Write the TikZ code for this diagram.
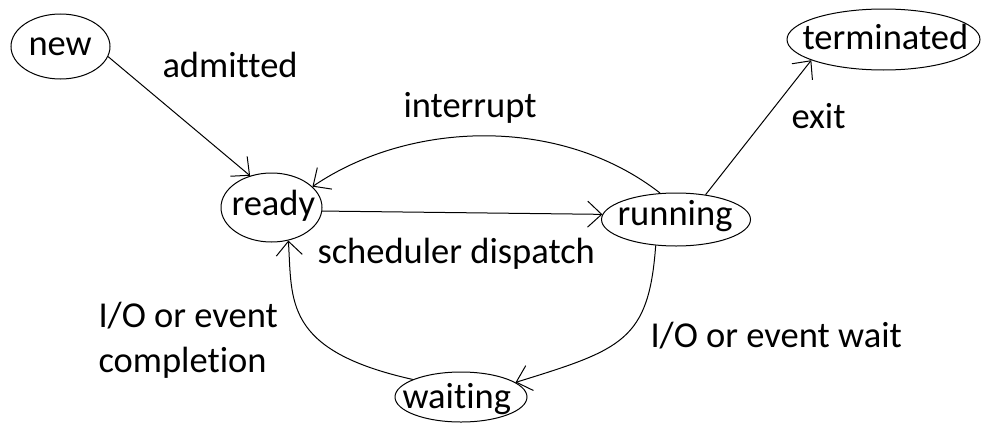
\documentclass[tikz,border=0pt]{standalone}
\usepackage{fontspec}
\setmainfont{Carlito}[Ligatures={NoCommon,NoContextual}]
\usetikzlibrary{arrows.meta,shapes.geometric}
\begin{document}
\begin{tikzpicture}[x=1pt,y=-1pt,line width=1pt,
  >={Straight Barb[length=14pt,width=26pt]},
  state/.style={ellipse,draw,inner sep=0pt},
  txt/.style={anchor=base west,inner sep=0pt,font=\fontsize{36.5}{45}\selectfont},
  conn/.style={->}]
\useasboundingbox (0,0) rectangle (981,423);
% states
\node[state,minimum width=99pt,minimum height=65pt] (new) at (60.5,46.5) {};
\node[state,minimum width=101pt,minimum height=69pt] (ready) at (271.5,207.5) {};
\node[state,minimum width=193pt,minimum height=61pt] (term) at (883.5,39.5) {};
\node[state,minimum width=149pt,minimum height=53pt] (run) at (676,219.5) {};
\node[state,minimum width=132pt,minimum height=50pt] (wait) at (461,397) {};
% state texts
\node[txt] (newt) at (28,55) {new};
\node[txt] (readyt) at (231,215) {ready};
\node[txt] (termt) at (802,49) {terminated};
\node[txt] (runt) at (617,225) {running};
\node[txt] (waitt) at (402,408) {waiting};
% labels
\node[txt] (ladm) at (162,77) {admitted};
\node[txt] (lexit) at (791,128) {exit};
\node[txt] (lint) at (403,117) {interrupt};
\node[txt] (ldisp) at (317,263) {scheduler dispatch};
\node[txt] (lwait) at (650,347) {I/O or event wait};
\node[txt,align=left] (lcomp) at (98,372) {I/O or event\\completion};
% connectors
\draw[conn] (new.-12) -- (ready.124);
\draw[conn] (run.121) .. controls +(-100,-78) and +(97,-66) .. (ready.27);
\draw[conn] (ready.-4) -- (run.176.5);
\draw[conn] (run.40) -- (term.-164);
\draw[conn] (run.-128) .. controls +(-7,95) and +(107,-33) .. (wait.15);
\draw[conn] (wait.160.6) .. controls +(-130,-29) and +(4,60) .. (ready.-63);
\end{tikzpicture}
\end{document}
